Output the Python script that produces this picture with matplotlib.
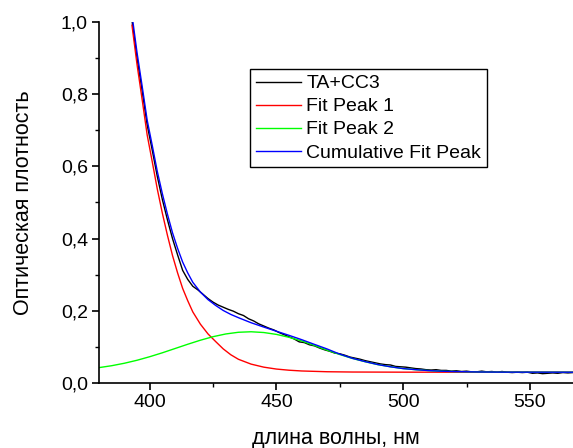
import matplotlib
matplotlib.use("Agg")
from matplotlib import pyplot as plt
from matplotlib.ticker import MultipleLocator, FuncFormatter

# measured spectrum TA+CC3
wl_data = [393, 395, 397, 399, 401, 403, 405, 407, 409, 411, 413, 415, 417, 419,
           421, 423, 425, 427, 429, 431, 433, 435, 437, 439, 441, 443, 445, 447,
           449, 451, 453, 455, 457, 459, 461, 463, 465, 467, 469, 471, 473, 475,
           477, 479, 481, 483, 485, 487, 489, 491, 493, 495, 497, 499, 501, 503,
           505, 507, 509, 511, 513, 515, 517, 519, 521, 523, 525, 527, 529, 531,
           533, 535, 537, 539, 541, 543, 545, 547, 549, 551, 553, 555, 557, 559,
           561, 563, 565, 567]
od_data = [1.005, 0.900, 0.810, 0.715, 0.645, 0.572, 0.508, 0.452, 0.400, 0.355,
           0.312, 0.287, 0.268, 0.258, 0.246, 0.234, 0.224, 0.216, 0.210, 0.204,
           0.199, 0.192, 0.187, 0.178, 0.172, 0.164, 0.158, 0.152, 0.147, 0.140,
           0.134, 0.128, 0.122, 0.114, 0.112, 0.106, 0.103, 0.097, 0.092, 0.088,
           0.083, 0.081, 0.077, 0.072, 0.069, 0.066, 0.062, 0.059, 0.056, 0.053,
           0.051, 0.050, 0.046, 0.045, 0.044, 0.042, 0.040, 0.039, 0.037, 0.036,
           0.037, 0.035, 0.035, 0.033, 0.034, 0.032, 0.033, 0.031, 0.031, 0.033,
           0.031, 0.032, 0.030, 0.032, 0.030, 0.029, 0.030, 0.029, 0.030, 0.027,
           0.028, 0.026, 0.027, 0.028, 0.027, 0.029, 0.028, 0.029]

# fit peak 1 (decay)
wl_peak1 = [393, 395, 397, 399, 401, 403, 405, 407, 409, 411, 413, 415, 417, 420,
            423, 426, 429, 432, 435, 440, 445, 450, 455, 460, 470, 480, 500, 520,
            540, 567]
od_peak1 = [0.991, 0.882, 0.786, 0.687, 0.613, 0.537, 0.470, 0.409, 0.353, 0.305,
            0.262, 0.228, 0.197, 0.163, 0.136, 0.115, 0.0946, 0.0783, 0.0658,
            0.0524, 0.044, 0.0387, 0.0355, 0.0334, 0.0313, 0.0305, 0.0301, 0.0300,
            0.0300, 0.0300]

# fit peak 2 (band)
wl_peak2 = [380, 385, 390, 395, 400, 405, 410, 415, 420, 425, 430, 435, 440, 445,
            450, 455, 460, 465, 470, 475, 480, 485, 490, 495, 500, 505, 510, 515,
            520, 530, 540, 567]
od_peak2 = [0.0427, 0.0480, 0.0548, 0.0631, 0.0729, 0.0838, 0.0956, 0.1074,
            0.1186, 0.1284, 0.1359, 0.1406, 0.1420, 0.1399, 0.1347, 0.1266,
            0.1165, 0.104, 0.091, 0.079, 0.068, 0.059, 0.051, 0.045, 0.040,
            0.037, 0.0345, 0.0328, 0.0318, 0.0306, 0.0302, 0.0300]

# cumulative fit
wl_cum = [393, 395, 397, 399, 401, 403, 405, 407, 409, 411, 413, 415, 417, 420,
          423, 426, 429, 432, 435, 440, 445, 450, 455, 460, 465, 470, 475, 480,
          485, 490, 495, 500, 505, 510, 515, 520, 530, 540, 567]
od_cum = [1.02, 0.915, 0.823, 0.728, 0.658, 0.586, 0.524, 0.4675, 0.416, 0.373,
          0.335, 0.305, 0.279, 0.252, 0.231, 0.215, 0.201, 0.190, 0.181, 0.167,
          0.155, 0.1434, 0.132, 0.120, 0.107, 0.0943, 0.080, 0.0685, 0.0593,
          0.0512, 0.045, 0.040, 0.037, 0.0345, 0.0328, 0.0318, 0.0306, 0.0302,
          0.030]

plt.rcParams['font.family'] = ['Liberation Sans', 'DejaVu Sans']

fig = plt.figure(figsize=(5.73, 4.48), dpi=100)
ax = fig.add_axes([0.1728, 0.145, 0.8272, 0.806])

ax.plot(wl_data, od_data, color='black', lw=1.0, label='TA+CC3')
ax.plot(wl_peak1, od_peak1, color='#ff0000', lw=1.0, label='Fit Peak 1')
ax.plot(wl_peak2, od_peak2, color='#00ff00', lw=1.0, label='Fit Peak 2')
ax.plot(wl_cum, od_cum, color='#0000ff', lw=1.0, label='Cumulative Fit Peak')

ax.set_xlim(380, 567)
ax.set_ylim(0, 1.0)
ax.xaxis.set_major_locator(MultipleLocator(50))
ax.xaxis.set_minor_locator(MultipleLocator(25))
ax.yaxis.set_major_locator(MultipleLocator(0.2))
ax.yaxis.set_minor_locator(MultipleLocator(0.1))
ax.yaxis.set_major_formatter(FuncFormatter(lambda v, p: f'{v:.1f}'.replace('.', ',')))

for side in ('top', 'right'):
    ax.spines[side].set_visible(False)
for side in ('left', 'bottom'):
    ax.spines[side].set_linewidth(1.2)
ax.tick_params(which='major', direction='out', length=5, width=1.2,
               labelsize=14, pad=3)
ax.tick_params(which='minor', direction='out', length=3, width=1.0)

ax.set_xlabel('длина волны, нм', fontsize=15.5, labelpad=12)
ax.set_ylabel('Оптическая плотность', fontsize=15.5, labelpad=19)

leg = ax.legend(loc='upper left', bbox_to_anchor=(0.3186, 0.87), borderaxespad=0,
                fancybox=False, edgecolor='black', framealpha=1, fontsize=14,
                handlelength=2.3, handletextpad=0.3, borderpad=0.3,
                labelspacing=0.28)
leg.get_frame().set_linewidth(1.0)

fig.savefig('out.png', dpi=100)
